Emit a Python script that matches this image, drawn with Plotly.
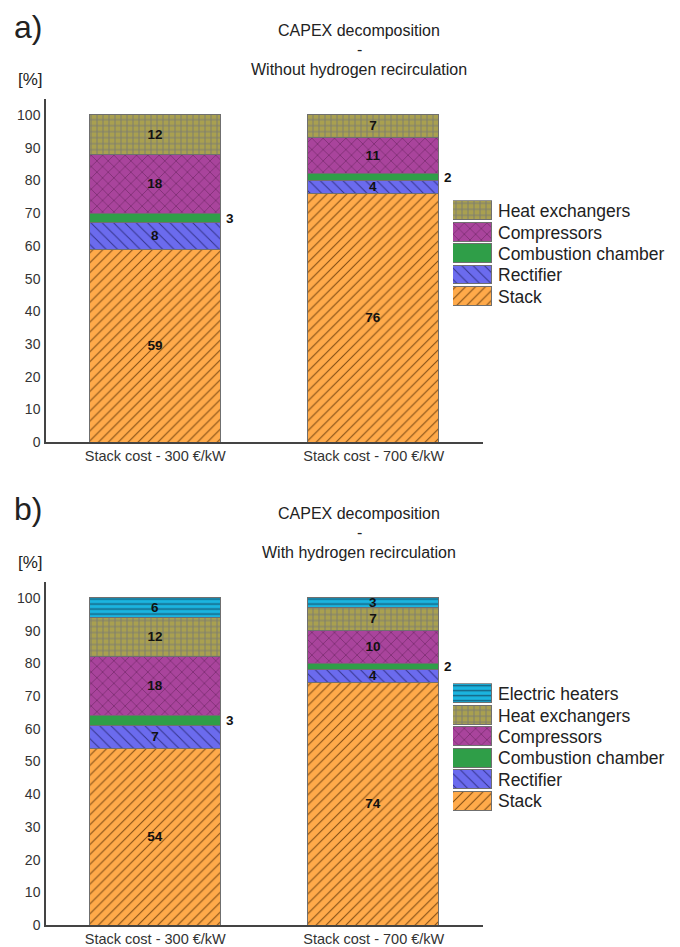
import plotly.graph_objects as go

W, H = 680, 947

categories = ["Stack cost - 300 €/kW", "Stack cost - 700 €/kW"]

# Panel a) Without hydrogen recirculation
a_stack = [59, 76]
a_rectifier = [8, 4]
a_combustion = [3, 2]
a_compressors = [18, 11]
a_heat_exchangers = [12, 7]

# Panel b) With hydrogen recirculation
b_stack = [54, 74]
b_rectifier = [7, 4]
b_combustion = [3, 2]
b_compressors = [18, 10]
b_heat_exchangers = [12, 7]
b_electric_heaters = [6, 3]

yticks = [0, 10, 20, 30, 40, 50, 60, 70, 80, 90, 100]

FONT = "Liberation Sans, Arial, sans-serif"

styles = {
    "Stack": dict(bg="#FFAA4A", fg="#7f4c14", shape="/", size=7, sol=0.15),
    "Rectifier": dict(bg="#6B6BEE", fg="#34348a", shape="\\", size=8, sol=0.12),
    "Combustion chamber": dict(bg="#2F9E48", fg="#2F9E48", shape="", size=8, sol=0.1),
    "Compressors": dict(bg="#A9449C", fg="#5e1f55", shape="x", size=8, sol=0.12),
    "Heat exchangers": dict(bg="#A9A050", fg="#7d7d70", shape="+", size=6, sol=0.3),
    "Electric heaters": dict(bg="#1BB5E0", fg="#16607e", shape="-", size=5, sol=0.28),
}


def marker_for(name):
    s = styles[name]
    m = dict(color=s["bg"], line=dict(color="#6f6f6f", width=1))
    if s["shape"]:
        m["pattern"] = dict(shape=s["shape"], fgcolor=s["fg"], bgcolor=s["bg"],
                            size=s["size"], solidity=s["sol"], fillmode="replace")
    return m


def px_x(p):
    return p / W


def px_y(p):
    return 1 - p / H


fig = go.Figure()


def add_panel(series, xa, ya):
    cum = [0, 0]
    for name, vals in series:
        show_inside = name != "Combustion chamber"
        fig.add_trace(go.Bar(
            x=categories, y=vals, name=name, xaxis=xa, yaxis=ya,
            width=0.6, marker=marker_for(name), showlegend=False,
            text=[f"<b>{v}</b>" for v in vals] if show_inside else None,
            textposition="inside" if show_inside else "none",
            insidetextanchor="middle", constraintext="none", textangle=0,
            textfont=dict(family=FONT, size=13.5, color="#111"),
            hoverinfo="skip",
        ))
        if not show_inside:
            for i, v in enumerate(vals):
                fig.add_annotation(
                    x=i + 0.3, y=cum[i] + v / 2, xref=xa, yref=ya,
                    text=f"<b>{v}</b>", showarrow=False, xanchor="left",
                    xshift=3, font=dict(family=FONT, size=13.5, color="#111"))
        cum = [c + v for c, v in zip(cum, vals)]


def add_legend(series, xa, ya):
    for name, _ in series:
        fig.add_trace(go.Bar(
            x=[1], y=[name], orientation="h", xaxis=xa, yaxis=ya, width=0.88,
            marker=marker_for(name), showlegend=False, hoverinfo="skip"))


series_a = [("Stack", a_stack), ("Rectifier", a_rectifier),
            ("Combustion chamber", a_combustion), ("Compressors", a_compressors),
            ("Heat exchangers", a_heat_exchangers)]
series_b = [("Stack", b_stack), ("Rectifier", b_rectifier),
            ("Combustion chamber", b_combustion), ("Compressors", b_compressors),
            ("Heat exchangers", b_heat_exchangers),
            ("Electric heaters", b_electric_heaters)]

add_panel(series_a, "x", "y")
add_panel(series_b, "x2", "y2")
add_legend(series_a, "x3", "y3")
add_legend(series_b, "x4", "y4")

xdom = [px_x(46), px_x(483)]
axis_common_x = dict(type="category", range=[-0.5, 1.5], showline=True,
                     linecolor="#444", linewidth=1.5, ticks="", showgrid=False,
                     zeroline=False, ticklabelstandoff=0,
                     tickfont=dict(family=FONT, size=14.5, color="#333"))
axis_common_y = dict(range=[0, 105], showline=True, linecolor="#444", linewidth=1.5,
                     ticks="", showgrid=False, zeroline=False, tickvals=yticks,
                     ticklabelstandoff=1,
                     tickfont=dict(family=FONT, size=14, color="#333"))

leg_x = dict(range=[0, 1], visible=False, fixedrange=True)


def leg_y(cats, top, bottom):
    return dict(type="category", categoryorder="array", categoryarray=cats,
                range=[-0.5, len(cats) - 0.5], side="right", showline=False,
                ticks="", showgrid=False, zeroline=False, ticklabelstandoff=5,
                domain=[px_y(bottom), px_y(top)],
                tickfont=dict(family=FONT, size=17.5, color="#222"))


fig.update_layout(
    width=W, height=H, margin=dict(l=0, r=0, t=0, b=0),
    paper_bgcolor="white", plot_bgcolor="white", barmode="stack", bargap=0,
    font=dict(family=FONT, color="#222"),
    xaxis=dict(domain=xdom, anchor="y", **axis_common_x),
    yaxis=dict(domain=[px_y(446), px_y(99.5)], anchor="x", **axis_common_y),
    xaxis2=dict(domain=xdom, anchor="y2", **axis_common_x),
    yaxis2=dict(domain=[px_y(933), px_y(586.5)], anchor="x2", **axis_common_y),
    xaxis3=dict(domain=[px_x(453), px_x(492)], anchor="y3", **leg_x),
    yaxis3=dict(anchor="x3", **leg_y([s[0] for s in series_a], 202, 310)),
    xaxis4=dict(domain=[px_x(453), px_x(492)], anchor="y4", **leg_x),
    yaxis4=dict(anchor="x4", **leg_y([s[0] for s in series_b], 689, 819)),
)


def ann_px(text, x, y, size, xanchor="center"):
    fig.add_annotation(text=text, x=px_x(x), y=px_y(y), xref="paper", yref="paper",
                       showarrow=False, xanchor=xanchor, yanchor="middle",
                       font=dict(family=FONT, size=size, color="#222"))


ann_px("a)", 12, 27, 32, "left")
ann_px("[%]", 16, 80, 17, "left")
ann_px("CAPEX decomposition", 359, 31, 16)
ann_px("-", 359, 50, 16)
ann_px("Without hydrogen recirculation", 359, 70, 16)

ann_px("b)", 12, 513, 32, "left")
ann_px("[%]", 16, 567, 17, "left")
ann_px("CAPEX decomposition", 359, 518, 16)
ann_px("-", 359, 537, 16)
ann_px("With hydrogen recirculation", 359, 557, 16)

fig.write_html(
    "out.html",
    config={"displayModeBar": False},
    post_script="document.body.style.margin='0';document.body.style.padding='0';"
                "document.body.style.overflow='hidden';",
)
